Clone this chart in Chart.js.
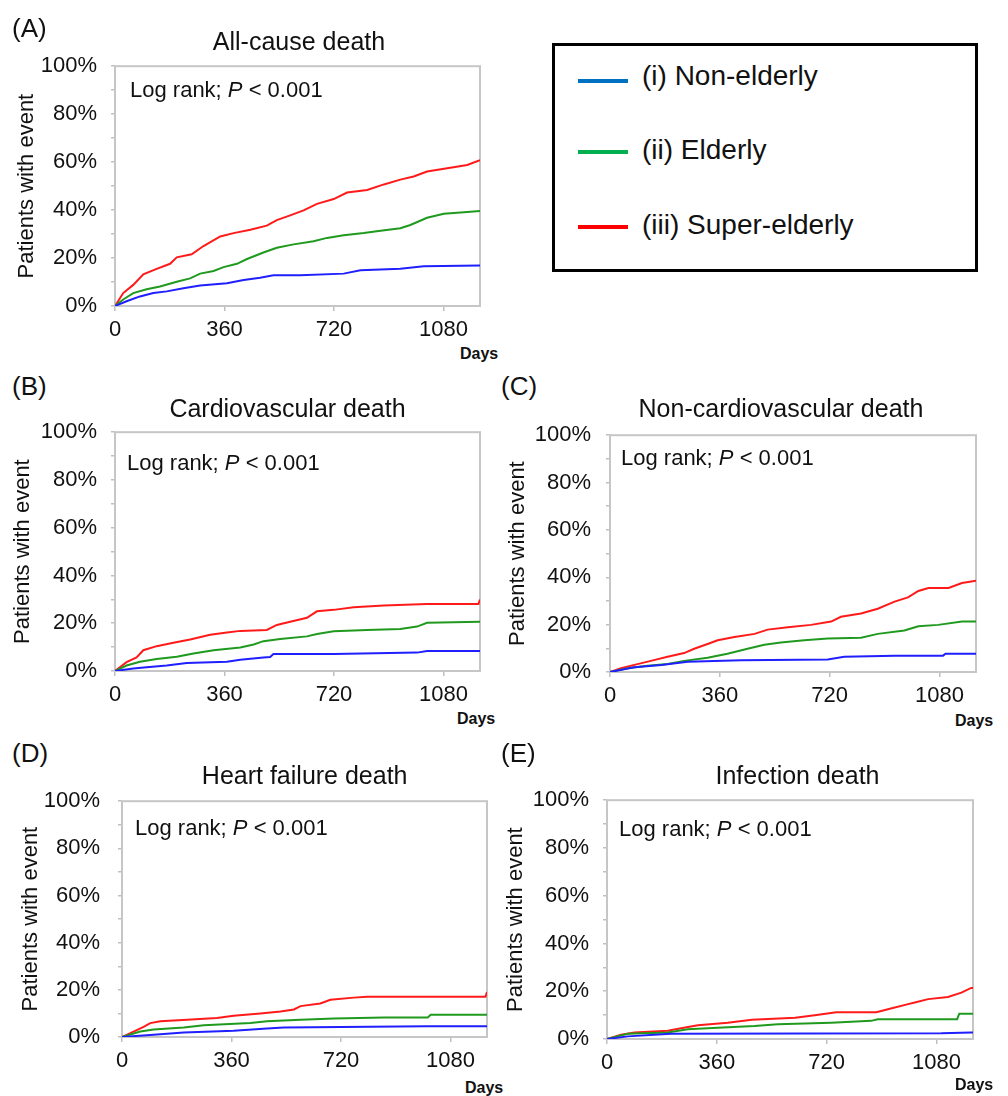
<!DOCTYPE html>
<html>
<head>
<meta charset="utf-8">
<script src="https://cdn.jsdelivr.net/npm/chart.js@4/dist/chart.umd.min.js"></script>
<style>
  html, body { margin: 0; padding: 0; background: #fff; }
  body { width: 1008px; height: 1096px; position: relative; overflow: hidden;
         font-family: "Liberation Sans", Arial, sans-serif; color: #111; }
  .t { position: absolute; white-space: nowrap; line-height: 1; }
  canvas { position: absolute; }
  .legend { position: absolute; left: 552px; top: 43px; width: 426px; height: 229px;
            box-sizing: border-box; border: 3px solid #000; }
  .lline { position: absolute; width: 50px; height: 4px; }
</style>
</head>
<body>
<script>
// ---------------- DATA (day, % of patients with event) ----------------
const seriesNames = ['(i) Non-elderly', '(ii) Elderly', '(iii) Super-elderly'];
const panelLetters = ['(A)', '(B)', '(C)', '(D)', '(E)'];
const panelTitles = ['All-cause death', 'Cardiovascular death', 'Non-cardiovascular death',
                     'Heart failure death', 'Infection death'];
const xTickValues = [0, 360, 720, 1080];
const yTickValues = [0, 10, 20, 30, 40, 50, 60, 70, 80, 90, 100];
const yLabelledTicks = [0, 20, 40, 60, 80, 100];

// (A) All-cause death
const A_nonElderly = [[0,0],[38,2],[82,4],[126,5.4],[170,6.1],[225,7.4],[280,8.5],[368,9.5],[423,10.8],[477,11.8],[521,12.8],[609,12.8],[752,13.5],[807,14.9],[938,15.5],[1015,16.6],[1200,16.9]];
const A_elderly = [[0,0],[27,2.7],[60,5.4],[104,7],[148,8.1],[203,10.1],[247,11.5],[280,13.5],[324,14.6],[357,16.2],[401,17.6],[434,19.6],[488,22.3],[532,24.3],[587,25.7],[653,27],[697,28.4],[752,29.5],[818,30.4],[873,31.4],[938,32.4],[971,33.8],[1026,36.8],[1081,38.5],[1158,39.2],[1200,39.6]];
const A_superElderly = [[0,0],[27,5.4],[60,8.8],[93,13.2],[137,15.5],[181,17.6],[203,20.3],[252,21.6],[291,25],[346,29],[390,30.4],[445,31.8],[499,33.5],[532,35.8],[576,37.8],[620,39.9],[664,42.6],[719,44.6],[763,47.3],[829,48.4],[884,50.7],[938,52.7],[982,54],[1026,56.1],[1092,57.4],[1158,58.8],[1200,60.8]];

// (B) Cardiovascular death
const B_nonElderly = [[0,0],[60,1],[104,1.6],[170,2.3],[236,3.3],[368,3.9],[412,4.7],[488,5.7],[510,5.9],[521,7.1],[719,7.1],[993,7.7],[1026,8.4],[1200,8.4]];
const B_elderly = [[0,0],[38,2.3],[82,3.9],[137,5],[203,6],[258,7.3],[324,8.7],[412,9.8],[456,11.1],[488,12.5],[543,13.4],[631,14.5],[664,15.5],[719,16.6],[829,17.2],[938,17.6],[993,18.6],[1026,20.2],[1200,20.6]];
const B_superElderly = [[0,0],[38,3.7],[71,5.7],[93,8.7],[137,10.4],[192,11.8],[247,13.2],[313,15.2],[368,16.1],[412,16.8],[499,17.2],[532,19.3],[576,20.6],[631,22.3],[664,25],[719,25.6],[785,26.7],[884,27.4],[1026,28.1],[1195,28.1],[1200,29.9]];

// (C) Non-cardiovascular death
const C_nonElderly = [[0,0],[80,2],[169,3],[255,4.3],[430,5],[714,5.3],[768,6.4],[933,6.9],[1092,6.9],[1100,7.7],[1200,7.7]];
const C_elderly = [[0,0],[58,1.6],[123,2.6],[189,3.4],[243,4.7],[320,6],[385,7.7],[451,9.8],[506,11.5],[560,12.5],[637,13.4],[714,14.1],[823,14.5],[878,16.1],[965,17.5],[1011,19.3],[1076,19.9],[1154,21.3],[1200,21.3]];
const C_superElderly = [[0,0],[36,1.6],[80,3],[134,4.7],[189,6.4],[243,8],[276,9.8],[320,11.8],[353,13.4],[408,14.8],[474,16.1],[517,17.9],[583,18.9],[659,19.9],[725,21.3],[757,23.3],[823,24.7],[878,26.7],[933,29.7],[977,31.5],[1011,34.2],[1044,35.5],[1110,35.5],[1154,37.6],[1200,38.5]];

// (D) Heart failure death
const D_nonElderly = [[0,0],[93,0.9],[203,1.9],[367,2.7],[477,3.6],[532,4],[1003,4.6],[1200,4.6]];
const D_elderly = [[0,0],[60,2.3],[104,3.2],[203,4],[269,5],[422,5.9],[477,6.7],[587,7.3],[697,7.8],[862,8.3],[1005,8.3],[1015,9.4],[1200,9.4]];
const D_superElderly = [[0,0],[38,2.3],[71,4.3],[93,5.9],[126,6.7],[214,7.3],[312,8.1],[367,9],[455,10],[521,10.8],[565,11.7],[587,13.1],[652,14.2],[685,15.8],[762,16.7],[806,17.1],[1195,17.1],[1200,19.1]];

// (E) Infection death
const E_nonElderly = [[0,0],[68,1.1],[210,2.2],[1096,2.4],[1194,2.7],[1200,2.7]];
const E_elderly = [[0,0],[68,2.2],[199,2.7],[265,4.1],[396,4.9],[484,5.4],[560,6.2],[735,6.8],[866,7.6],[888,8.3],[1148,8.3],[1155,10.6],[1200,10.6]];
const E_superElderly = [[0,0],[46,1.8],[90,2.7],[199,3.5],[243,4.5],[298,5.8],[396,6.8],[475,8.1],[617,8.9],[681,9.9],[752,11.2],[883,11.2],[937,13],[981,14.4],[1009,15.3],[1053,16.7],[1118,17.6],[1162,19.4],[1194,21.4],[1200,21.4]];

const panelSeries = [
  [A_nonElderly, A_elderly, A_superElderly],
  [B_nonElderly, B_elderly, B_superElderly],
  [C_nonElderly, C_elderly, C_superElderly],
  [D_nonElderly, D_elderly, D_superElderly],
  [E_nonElderly, E_elderly, E_superElderly]
];

// ---------------- STYLE / LAYOUT ----------------
const lineColors = ['#1f1fff', '#1f9a1f', '#ff1a1a'];
const legendColors = ['#0070c0', '#00b050', '#ff0000'];
const FONT = '"Liberation Sans", Arial, sans-serif';
Chart.defaults.font.family = FONT;
Chart.defaults.color = '#111';

// plot rectangles (left, top, right, bottom) and text anchors
const layout = [
  { plot:[115,59,480,306],  x0:0,   yPad:14, titlePad:13.3, letter:[12,15],  title:[299,28.8],   logrank:[130,79.4],  days:[460,345.5] },
  { plot:[115,425,480,671], x0:0,   yPad:14, titlePad:9.3,  letter:[12,373], title:[287.5,395.8], logrank:[127,452],   days:[457,710.5] },
  { plot:[610,427,976,672], x0:495, yPad:15, titlePad:9.3,  letter:[501,373],title:[781,395.8],  logrank:[621,447.4], days:[955,712.5] },
  { plot:[122,790,487,1037],x0:0,   yPad:18, titlePad:17.8, letter:[12,740], title:[304.7,762.8], logrank:[135,817.4], days:[465,1079.5] },
  { plot:[607,793,973,1039],x0:495, yPad:14, titlePad:7.8,  letter:[501,740],title:[797.5,762.8], logrank:[619,818.4], days:[955,1076.5] }
];

function addText(html, left, top, size, extra) {
  const d = document.createElement('div');
  d.className = 't';
  d.style.left = left + 'px';
  d.style.top = top + 'px';
  d.style.fontSize = size + 'px';
  if (extra) Object.assign(d.style, extra);
  d.innerHTML = html;
  document.body.appendChild(d);
  return d;
}

const framePlugin = {
  id: 'frame',
  beforeDatasetsDraw(chart) {
    const { ctx, chartArea: a } = chart;
    ctx.save();
    ctx.strokeStyle = '#c6c6c6';
    ctx.lineWidth = 2;
    ctx.strokeRect(a.left, a.top, a.right - a.left, a.bottom - a.top);
    ctx.restore();
  }
};

layout.forEach((L, i) => {
  const [pl, pt, pr, pb] = L.plot;
  const cx = L.x0, cy = pt - 20;
  const cw = pr + 20 - cx, ch = pb + 34 - cy;
  const canvas = document.createElement('canvas');
  canvas.width = cw; canvas.height = ch;
  canvas.style.left = cx + 'px'; canvas.style.top = cy + 'px';
  canvas.style.width = cw + 'px'; canvas.style.height = ch + 'px';
  document.body.appendChild(canvas);

  new Chart(canvas, {
    type: 'line',
    data: {
      datasets: panelSeries[i].map((s, k) => ({
        label: seriesNames[k],
        data: s.map(([x, y]) => ({ x, y })),
        borderColor: lineColors[k],
        borderWidth: 2,
        pointRadius: 0,
        tension: 0,
        fill: false
      }))
    },
    options: {
      responsive: false,
      animation: false,
      devicePixelRatio: 1,
      layout: { padding: { left: 0, top: 20, right: 20, bottom: 4 } },
      plugins: { legend: { display: false }, tooltip: { enabled: false }, title: { display: false } },
      scales: {
        x: {
          type: 'linear', min: 0, max: 1200,
          afterBuildTicks: s => { s.ticks = xTickValues.map(v => ({ value: v })); },
          afterFit: s => { s.height = 30; },
          ticks: { autoSkip: false, maxRotation: 0, padding: 6, color: '#111',
                   font: { size: 22, family: FONT },
                   callback: v => String(v) },
          grid: { drawOnChartArea: false, drawTicks: true, tickLength: 5, color: '#c0c0c0', lineWidth: 1.5 },
          border: { display: false }
        },
        y: {
          type: 'linear', min: 0, max: 100,
          afterBuildTicks: s => { s.ticks = yTickValues.map(v => ({ value: v })); },
          afterFit: s => { s.width = pl - cx; },
          ticks: { autoSkip: false, padding: L.yPad, color: '#111',
                   font: { size: 22, family: FONT },
                   callback: v => yLabelledTicks.includes(v) ? v + '%' : '' },
          grid: { drawOnChartArea: false, drawTicks: true, tickLength: 4, color: '#c0c0c0', lineWidth: 1.5 },
          border: { display: false },
          title: { display: true, text: 'Patients with event', color: '#111',
                   font: { size: 22, family: FONT }, padding: { top: L.titlePad, bottom: 0 } }
        }
      }
    },
    plugins: [framePlugin]
  });

  addText(panelLetters[i], L.letter[0], L.letter[1], 26);
  addText(panelTitles[i], L.title[0] - 200, L.title[1], 25, { width: '400px', textAlign: 'center' });
  addText('Log rank; <i>P</i> &lt; 0.001', L.logrank[0], L.logrank[1], 22);
  addText('Days', L.days[0], L.days[1], 16, { fontWeight: 'bold' });
});

// Legend box
const lg = document.createElement('div');
lg.className = 'legend';
document.body.appendChild(lg);
const legendLineY = [81, 152, 227];
const legendBaseline = [86, 160, 235];
seriesNames.forEach((name, k) => {
  const ln = document.createElement('div');
  ln.className = 'lline';
  ln.style.left = '578px';
  ln.style.top = (legendLineY[k] - 2) + 'px';
  ln.style.background = legendColors[k];
  document.body.appendChild(ln);
  addText(name, 642, legendBaseline[k] - 0.8465 * 28, 28);
});
</script>
</body>
</html>
